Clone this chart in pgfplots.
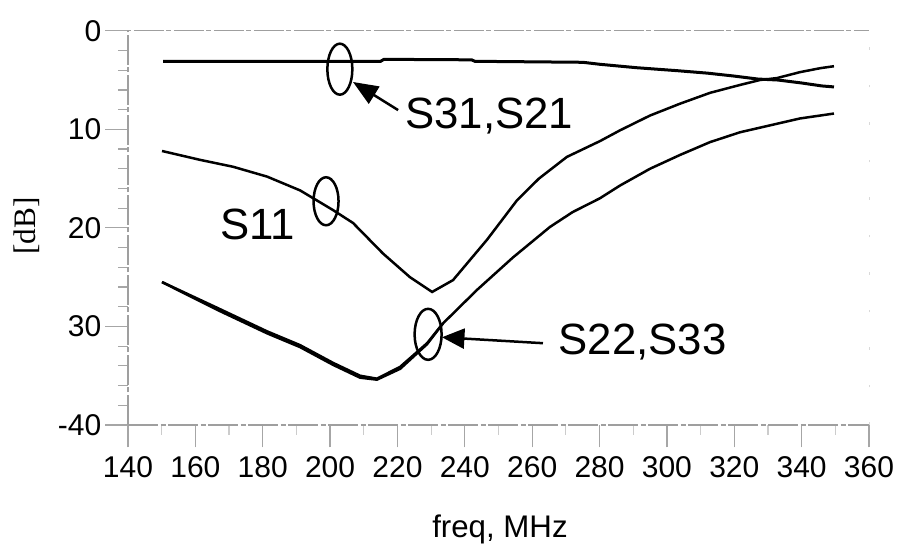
\documentclass[border=0pt]{standalone}
\usepackage{fontspec}
\setmainfont{Liberation Sans}
\newfontfamily\seriffont{Liberation Serif}
\usepackage{pgfplots}
\pgfplotsset{compat=1.18}
\usetikzlibrary{arrows.meta}

\begin{document}
\begin{tikzpicture}
\useasboundingbox (-51.2pt,-48.4pt) rectangle (309.2pt,170pt);
\begin{axis}[
  at={(0pt,0pt)}, anchor=south west,
  scale only axis, width=296.4pt, height=157.7pt,
  xmin=140, xmax=360, ymin=-40, ymax=0,
  xtick={140,160,...,360},
  ytick={-40,-30,-20,-10,0},
  yticklabels={-40,30,20,10,0},
  minor y tick num=4, minor x tick num=1,
  tick align=outside, xtick pos=bottom, ytick pos=left,
  major tick length=9pt, minor tick length=4pt,
  tick style={gray!70, line width=0.5pt},
  minor x tick style={gray!40},
  axis line style={draw=none},
  /pgf/number format/assume math mode=true,
  ticklabel style={font=\fontsize{12}{14}\selectfont},
  yticklabel style={inner sep=1.5pt},
  clip=false,
]
% frame
\draw[gray!75, line width=0.5pt, dash pattern=on 12pt off 1pt on 2pt off 1pt] (rel axis cs:0,0) -- (rel axis cs:0,1) -- (rel axis cs:1,1);
\draw[gray!75, line width=0.5pt, dash pattern=on 12pt off 1pt on 2pt off 1pt] (rel axis cs:0,0) -- (rel axis cs:1,0);
\draw[gray!30, line width=0.4pt, dash pattern=on 1pt off 14pt] (rel axis cs:1,0) -- (rel axis cs:1,1);

% S31, S21
\addplot[black, line width=1.2pt] coordinates {
(150.4,-3.1) (215,-3.1) (216,-2.9) (242,-2.95) (243,-3.1) (275,-3.2) (280,-3.4)
(291,-3.75) (303,-4.05) (312,-4.3) (320,-4.6) (327,-4.9) (333,-5.0) (340,-5.3)
(346,-5.6) (349.6,-5.7)};

% S11
\addplot[black, line width=1pt] coordinates {
(150.1,-12.2) (161.4,-13.1) (171.2,-13.8) (181.3,-14.8) (191.1,-16.2) (200.9,-18.2)
(206.8,-19.5) (215.7,-22.6) (223.7,-25.0) (230.3,-26.5) (236.5,-25.3) (246.6,-21.2)
(255.5,-17.2) (262.0,-15.0) (270.3,-12.8) (280.1,-11.2) (286.1,-10.1) (295.0,-8.6) (303.9,-7.4)
(312.8,-6.3) (321.7,-5.5) (327.6,-5.0) (332.7,-4.8) (339.5,-4.2) (345.5,-3.8) (349.6,-3.6)};

% S22
\addplot[black, line width=1pt] coordinates {
(150.1,-25.5) (166.4,-28.1) (181.3,-30.5) (191.1,-31.9) (200.9,-33.7) (208.9,-35.0)
(213.9,-35.3) (220.8,-34.1) (228.8,-31.7) (233.5,-29.7) (243.6,-26.3) (254.3,-23.0)
(265.3,-19.9) (272.0,-18.4) (280.1,-17.0) (286.1,-15.7) (295.0,-14.0) (303.9,-12.6) (312.8,-11.3)
(321.7,-10.3) (330.6,-9.6) (339.5,-8.9) (349.6,-8.4)};

% S33
\addplot[black, line width=1pt] coordinates {
(150.1,-25.5) (166.4,-28.3) (181.3,-30.7) (191.1,-32.1) (200.9,-33.9) (208.9,-35.2)
(213.9,-35.4) (220.8,-34.3) (228.8,-31.8) (233.5,-29.7)};

% annotations
\draw[line width=1pt] (axis cs:202.9,-3.9) ellipse [x radius=5pt, y radius=10.2pt];
\draw[line width=1pt] (axis cs:198.8,-17.3) ellipse [x radius=5pt, y radius=9.6pt];
\draw[line width=1pt] (axis cs:229.1,-30.8) ellipse [x radius=5.4pt, y radius=10.2pt];
\draw[line width=1pt, -{Triangle[length=10pt,width=8pt]}] (axis cs:220.2,-8.05) -- (axis cs:206.8,-5.2);
\draw[line width=1pt, -{Triangle[length=9pt,width=8pt]}] (axis cs:263.2,-31.7) -- (axis cs:233.2,-31.1);
\node[anchor=base west, inner sep=0pt, font=\fontsize{17.5}{20}\selectfont] at (axis cs:222.2,-9.9) {S31,S21};
\node[anchor=base west, inner sep=0pt, font=\fontsize{17.5}{20}\selectfont] at (axis cs:167.3,-21.2) {S11};
\node[anchor=base west, inner sep=0pt, font=\fontsize{17.5}{20}\selectfont] at (axis cs:267.7,-32.8) {S22,S33};

% axis labels
\node[rotate=90, font=\seriffont\fontsize{12.5}{14}\selectfont] at (axis description cs:-0.136,0.505) {[dB]};
\node[font=\fontsize{12.5}{14}\selectfont] at (axis description cs:0.502,-0.266) {freq, MHz};
\end{axis}
\end{tikzpicture}
\end{document}
